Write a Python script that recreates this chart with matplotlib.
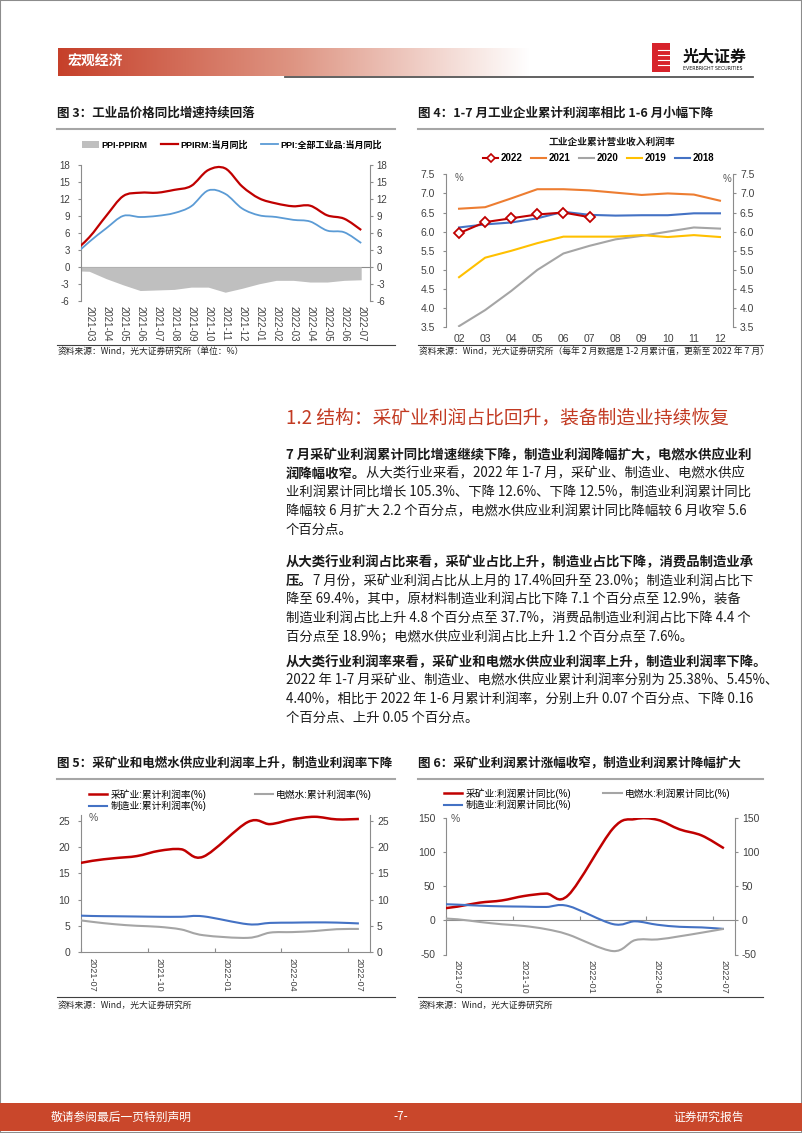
import numpy as np
import matplotlib
matplotlib.use('Agg')
import matplotlib.pyplot as plt
from matplotlib.path import Path
from matplotlib.patches import PathPatch, Rectangle, Patch
from matplotlib.lines import Line2D
from matplotlib.colors import LinearSegmentedColormap

W, H = 802, 1133
BODY = ['Noto Sans CJK SC', 'DejaVu Sans']
CHART = ['Liberation Sans', 'Noto Sans CJK SC']
plt.rcParams['font.family'] = CHART

RED = '#C00000'
GRAY = '#8C8C8C'
TXT = '#404040'

# ---- 图3: PPI / PPIRM (first month sits just left of the axis) ----
ppi_months = ['2021-02', '2021-03', '2021-04', '2021-05', '2021-06', '2021-07', '2021-08',
              '2021-09', '2021-10', '2021-11', '2021-12', '2022-01', '2022-02', '2022-03',
              '2022-04', '2022-05', '2022-06', '2022-07']
ppirm = [2.4, 5.2, 9.0, 12.5, 13.1, 13.1, 13.6, 14.3, 17.1, 17.4, 14.2, 12.1, 11.2, 10.7,
         10.8, 9.1, 8.5, 6.5]
ppi = [1.7, 4.4, 6.8, 9.0, 8.8, 9.0, 9.5, 10.7, 13.5, 12.9, 10.3, 9.1, 8.8, 8.3,
       8.0, 6.4, 6.1, 4.2]
ppi_gap = [-0.7, -0.8, -2.1, -3.2, -4.2, -4.1, -4.0, -3.6, -3.6, -4.5, -3.8, -3.0, -2.4, -2.4,
           -2.7, -2.7, -2.4, -2.3]

# ---- 图4: 工业企业累计营业收入利润率 ----
rate_months = ['02', '03', '04', '05', '06', '07', '08', '09', '10', '11', '12']
rate_2022 = [5.96, 6.25, 6.35, 6.45, 6.50, 6.38]
rate_2021 = [6.60, 6.64, 6.87, 7.11, 7.11, 7.08, 7.02, 6.96, 7.00, 6.97, 6.81]
rate_2020 = [3.53, 3.95, 4.45, 5.00, 5.43, 5.63, 5.80, 5.89, 6.00, 6.11, 6.08]
rate_2019 = [4.81, 5.32, 5.50, 5.70, 5.87, 5.87, 5.87, 5.91, 5.86, 5.91, 5.86]
rate_2018 = [6.11, 6.19, 6.24, 6.35, 6.52, 6.44, 6.42, 6.43, 6.43, 6.48, 6.48]

# ---- 图5 / 图6: 三大门类 (no separate Jan data) ----
ind_months = ['2021-06', '2021-07', '2021-08', '2021-09', '2021-10', '2021-11', '2021-12',
              '2022-02', '2022-03', '2022-04', '2022-05', '2022-06', '2022-07']
ind_ticks = ['2021-07', '2021-10', '2022-01', '2022-04', '2022-07']
mining_rate = [16.6, 17.4, 17.9, 18.3, 19.3, 19.6, 18.2, 24.8, 24.4, 25.3, 25.8, 25.3, 25.38]
manu_rate = [7.0, 6.87, 6.82, 6.77, 6.72, 6.72, 6.8, 5.3, 5.55, 5.6, 5.65, 5.61, 5.45]
util_rate = [6.3, 5.75, 5.3, 5.0, 4.8, 4.3, 3.2, 2.7, 3.7, 3.8, 4.0, 4.35, 4.40]
mining_yoy = [16, 20, 25.8, 29, 35.5, 39, 37, 134, 148, 147, 133, 124, 105.3]
manu_yoy = [24, 22.9, 21.4, 20.4, 20, 19.5, 20.8, -5.5, -1.5, -6.5, -9.5, -10.4, -12.6]
util_yoy = [3.3, 1.5, -2.4, -5.8, -8.3, -13, -21, -45, -29, -28, -23.4, -18.1, -12.5]


def mpos(s):
    y, m = s.split('-')
    return (int(y) - 2021) * 12 + int(m) - 7


fig = plt.figure(figsize=(W / 100, H / 100), dpi=100)
fig.patch.set_facecolor('white')


def px_axes(x0, y0, x1, y1):
    return fig.add_axes([x0 / W, 1 - y1 / H, (x1 - x0) / W, (y1 - y0) / H])


def ftext(x, y, s, **kw):
    kw.setdefault('va', 'center')
    return fig.text(x / W, 1 - y / H, s, **kw)


def hline(x0, x1, y, color, lw):
    fig.add_artist(Line2D([x0 / W, x1 / W], [1 - y / H, 1 - y / H], color=color, lw=lw,
                          transform=fig.transFigure))


def smooth(ax, x, y, color, lw):
    x = np.asarray(x, float)
    y = np.asarray(y, float)
    n = len(x)
    verts = [(x[0], y[0])]
    codes = [Path.MOVETO]
    for i in range(n - 1):
        xp, yp = (x[i - 1], y[i - 1]) if i > 0 else (x[i], y[i])
        xn, yn = (x[i + 2], y[i + 2]) if i < n - 2 else (x[i + 1], y[i + 1])
        verts.append((x[i] + (x[i + 1] - xp) / 6, y[i] + (y[i + 1] - yp) / 6))
        verts.append((x[i + 1] - (xn - x[i]) / 6, y[i + 1] - (yn - y[i]) / 6))
        verts.append((x[i + 1], y[i + 1]))
        codes += [Path.CURVE4] * 3
    ax.add_patch(PathPatch(Path(verts, codes), fill=False, edgecolor=color, lw=lw,
                           joinstyle='round', zorder=3))


def style_y(ax, ticks, labels, size, lpad, rpad, ymax=None):
    ax.set_ylim(ticks[0], ticks[-1] if ymax is None else ymax)
    ax.set_yticks(ticks, labels=labels)
    for s in ['top', 'bottom', 'right']:
        ax.spines[s].set_visible(False)
    ax.spines['left'].set_color(GRAY)
    ax.spines['left'].set_linewidth(0.8)
    ax.tick_params(axis='y', direction='out', length=2, width=0.8, color=GRAY,
                   labelsize=size, labelcolor=TXT, pad=lpad)
    sec = ax.secondary_yaxis('right')
    sec.set_yticks(ticks, labels=labels)
    sec.spines['right'].set_color(GRAY)
    sec.spines['right'].set_linewidth(0.8)
    sec.tick_params(axis='y', direction='out', length=2, width=0.8, color=GRAY,
                    labelsize=size, labelcolor=TXT, pad=rpad)
    ax.set_facecolor('none')


def zero_axis(ax, loc, ticks, direction):
    sx = ax.secondary_xaxis(loc)
    sx.set_xticks(ticks)
    for s in sx.spines.values():
        s.set_color(GRAY)
        s.set_linewidth(0.8)
    sx.tick_params(axis='x', direction=direction, length=3, width=0.8, color=GRAY,
                   labelbottom=False, labeltop=False)


# ---------------- page furniture ----------------
fig.add_artist(Rectangle((0, 0), 1, 1, transform=fig.transFigure, fill=False,
                         edgecolor='#8C8C8C', lw=1.5))
hdr = px_axes(58, 48, 530, 76)
hdr.imshow(np.linspace(0, 1, 256)[None, :], aspect='auto',
           cmap=LinearSegmentedColormap.from_list('hdr', ['#C6402A', '#DE9583', '#FFFFFF']))
hdr.axis('off')
ftext(68, 61.5, '宏观经济', color='white', fontsize=10, fontweight='bold', family=BODY)
hline(285, 753, 76.5, '#555555', 1.3)
# logo
fig.add_artist(Rectangle((652 / W, 1 - 72 / H), 18 / W, 29 / H, transform=fig.transFigure,
                         facecolor='#D7232B', edgecolor='none'))
for yy in [50, 55, 60, 65]:
    hline(658, 670, yy, 'white', 0.8)
ftext(683, 56, '光大证券', color='#111111', fontsize=11.5, fontweight='bold', family=BODY)
ftext(683, 68.5, 'EVERBRIGHT SECURITIES', color='#111111', fontsize=3.4, family=['DejaVu Sans'])

# footer
fig.add_artist(Rectangle((0, 1 - 1131 / H), 1, 28 / H, transform=fig.transFigure,
                         facecolor='#C9472B', edgecolor='none'))
ftext(51, 1117, '敬请参阅最后一页特别声明', color='white', fontsize=8.5, family=BODY)
ftext(401, 1117, '-7-', color='white', fontsize=8.5, family=BODY, ha='center')
ftext(744, 1117, '证券研究报告', color='white', fontsize=8.5, family=BODY, ha='right')

# chart titles / rules
ftext(57, 113, '图 3：工业品价格同比增速持续回落', fontsize=9, fontweight='bold', family=BODY,
      color='#1A1A1A')
ftext(418, 113, '图 4：1-7 月工业企业累计利润率相比 1-6 月小幅下降', fontsize=9,
      fontweight='bold', family=BODY, color='#1A1A1A')
hline(57, 395, 129, '#A6A6A6', 1.5)
hline(418, 763, 129, '#A6A6A6', 1.5)
ftext(57, 763, '图 5：采矿业和电燃水供应业利润率上升，制造业利润率下降', fontsize=9,
      fontweight='bold', family=BODY, color='#1A1A1A')
ftext(418, 763, '图 6：采矿业利润累计涨幅收窄，制造业利润累计降幅扩大', fontsize=9,
      fontweight='bold', family=BODY, color='#1A1A1A')
hline(57, 395, 779, '#A6A6A6', 1.5)
hline(418, 763, 779, '#A6A6A6', 1.5)

hline(57, 395, 345, '#404040', 0.8)
hline(418, 763, 345, '#404040', 0.8)
hline(57, 395, 997, '#404040', 0.8)
hline(418, 763, 997, '#404040', 0.8)
ftext(58, 351, '资料来源：Wind，光大证券研究所（单位：%）', fontsize=6.3, family=BODY, color='#222222')
ftext(419, 351, '资料来源：Wind，光大证券研究所（每年 2 月数据是 1-2 月累计值，更新至 2022 年 7 月）',
      fontsize=6.3, family=BODY, color='#222222')
ftext(58, 1005, '资料来源：Wind，光大证券研究所', fontsize=6.3, family=BODY, color='#222222')
ftext(419, 1005, '资料来源：Wind，光大证券研究所', fontsize=6.3, family=BODY, color='#222222')

# ---------------- 图3 ----------------
ax3 = px_axes(80.7, 165, 369.7, 300.7)
x3 = np.arange(len(ppi_months)) - 1
ax3.fill_between(x3, ppi_gap, 0, color='#BFBFBF', lw=0, zorder=1)
smooth(ax3, x3, ppirm, RED, 1.6)
smooth(ax3, x3, ppi, '#5B9BD5', 1.3)
ax3.set_xlim(-0.5, 16.5)
style_y(ax3, list(range(-6, 19, 3)), [str(v) for v in range(-6, 19, 3)], 7, 6, 3)
ax3.set_xticks(x3[1:], labels=ppi_months[1:], rotation=270)
ax3.tick_params(axis='x', length=0, pad=4, labelsize=7, labelcolor=TXT)
zero_axis(ax3, 0.25, np.arange(0.5, 16, 1), 'out')
fig.legend([Patch(facecolor='#BFBFBF'), Line2D([], [], color=RED, lw=1.6),
            Line2D([], [], color='#5B9BD5', lw=1.3)],
           ['PPI-PPIRM', 'PPIRM:当月同比', 'PPI:全部工业品:当月同比'],
           loc='center left', bbox_to_anchor=(82 / W, 1 - 145 / H), ncol=3, frameon=False,
           prop={'family': CHART, 'weight': 'bold', 'size': 6.5}, handlelength=1.9,
           handletextpad=0.3, columnspacing=1.4, borderpad=0, borderaxespad=0)

# ---------------- 图4 ----------------
ax4 = px_axes(446, 174.3, 733, 327.3)
x4 = np.arange(len(rate_months))
ax4.plot(x4, rate_2021, color='#ED7D31', lw=1.5)
ax4.plot(x4, rate_2020, color='#A5A5A5', lw=1.5)
ax4.plot(x4, rate_2019, color='#FFC000', lw=1.5)
ax4.plot(x4, rate_2018, color='#4472C4', lw=1.5)
ax4.plot(x4[:len(rate_2022)], rate_2022, color=RED, lw=1.5, marker='D', ms=5,
         mfc='white', mec=RED, mew=1.3, zorder=4)
ax4.set_xlim(-0.5, 10.5)
yt4 = [3.5 + 0.5 * i for i in range(9)]
style_y(ax4, yt4, ['%.1f' % v for v in yt4], 7.5, 6, 3)
ax4.set_xticks(x4, labels=rate_months)
ax4.tick_params(axis='x', length=0, pad=5, labelsize=7.5, labelcolor=TXT)
ftext(455, 178, '%', fontsize=7, color='#595959')
ftext(723, 179, '%', fontsize=7, color='#595959')
ftext(612, 142, '工业企业累计营业收入利润率', fontsize=7, fontweight='bold', family=BODY,
      ha='center', color='#1A1A1A')
fig.legend([Line2D([], [], color=RED, lw=1.5, marker='D', ms=4.5, mfc='white', mec=RED, mew=1.2),
            Line2D([], [], color='#ED7D31', lw=1.5), Line2D([], [], color='#A5A5A5', lw=1.5),
            Line2D([], [], color='#FFC000', lw=1.5), Line2D([], [], color='#4472C4', lw=1.5)],
           ['2022', '2021', '2020', '2019', '2018'],
           loc='center left', bbox_to_anchor=(483 / W, 1 - 158 / H), ncol=5, frameon=False,
           prop={'family': CHART, 'weight': 'bold', 'size': 7}, handlelength=1.55,
           handletextpad=0.25, columnspacing=0.9, borderpad=0, borderaxespad=0)

# ---------------- 图5 / 图6 ----------------
x_ind = [mpos(m) for m in ind_months]
tick_pos = [mpos(m) for m in ind_ticks]


def industry_chart(box, series, ticks, ymax, pct_xy, zero_loc, legend_xy, labels, colsp):
    ax = px_axes(*box)
    for vals, color, lw in series:
        smooth(ax, x_ind, vals, color, lw)
    ax.set_xlim(-0.5, 12.5)
    style_y(ax, ticks, [str(v) for v in ticks], 7.5, 6, 3, ymax)
    ax.set_xticks(tick_pos, labels=ind_ticks, rotation=270)
    ax.tick_params(axis='x', length=0, pad=4, labelsize=6.6, labelcolor=TXT)
    zero_axis(ax, zero_loc, [-0.5, 2.5, 5.5, 8.5, 11.5], 'in')
    ftext(pct_xy[0], pct_xy[1], '%', fontsize=7.5, color='#595959')
    handles = [Line2D([], [], color=c, lw=lw) for _, c, lw in series]
    fig.legend(handles, labels,
               loc='upper left', bbox_to_anchor=(legend_xy[0] / W, 1 - legend_xy[1] / H),
               ncol=2, frameon=False, prop={'family': CHART, 'size': 7},
               handlelength=1.9, handletextpad=0.3, columnspacing=colsp, labelspacing=0.1,
               borderpad=0, borderaxespad=0)
    return ax


industry_chart((81.3, 815.2, 370, 952),
               [(mining_rate, RED, 1.8), (manu_rate, '#4472C4', 1.5), (util_rate, '#A5A5A5', 1.5)],
               [0, 5, 10, 15, 20, 25], 26.1, (89, 818), 0.0, (89, 789),
               ['采矿业:累计利润率(%)', '制造业:累计利润率(%)', '电燃水:累计利润率(%)'], 5.0)
industry_chart((446.3, 817.7, 735, 954.5),
               [(mining_yoy, RED, 1.8), (manu_yoy, '#4472C4', 1.5), (util_yoy, '#A5A5A5', 1.5)],
               [-50, 0, 50, 100, 150], None, (451, 819), 0.25, (444, 788),
               ['采矿业:利润累计同比(%)', '制造业:利润累计同比(%)', '电燃水:利润累计同比(%)'], 3.3)

# ---------------- 正文 ----------------
ftext(286, 418, '1.2 结构：采矿业利润占比回升，装备制造业持续恢复', fontsize=13.5,
      color='#C23A22', family=BODY)

para_lines = [
    (455, [('7 月采矿业利润累计同比增速继续下降，制造业利润降幅扩大，电燃水供应业利', True)]),
    (473.5, [('润降幅收窄。', True), ('从大类行业来看，2022 年 1-7 月，采矿业、制造业、电燃水供应', False)]),
    (492, [('业利润累计同比增长 105.3%、下降 12.6%、下降 12.5%，制造业利润累计同比', False)]),
    (511, [('降幅较 6 月扩大 2.2 个百分点，电燃水供应业利润累计同比降幅较 6 月收窄 5.6', False)]),
    (529.5, [('个百分点。', False)]),
    (562, [('从大类行业利润占比来看，采矿业占比上升，制造业占比下降，消费品制造业承', True)]),
    (580.7, [('压。', True), ('7 月份，采矿业利润占比从上月的 17.4%回升至 23.0%；制造业利润占比下', False)]),
    (599.4, [('降至 69.4%，其中，原材料制造业利润占比下降 7.1 个百分点至 12.9%，装备', False)]),
    (618.1, [('制造业利润占比上升 4.8 个百分点至 37.7%，消费品制造业利润占比下降 4.4 个', False)]),
    (636.8, [('百分点至 18.9%；电燃水供应业利润占比上升 1.2 个百分点至 7.6%。', False)]),
    (661.7, [('从大类行业利润率来看，采矿业和电燃水供应业利润率上升，制造业利润率下降。', True)]),
    (680.4, [('2022 年 1-7 月采矿业、制造业、电燃水供应业累计利润率分别为 25.38%、5.45%、', False)]),
    (699.1, [('4.40%，相比于 2022 年 1-6 月累计利润率，分别上升 0.07 个百分点、下降 0.16', False)]),
    (717.8, [('个百分点、上升 0.05 个百分点。', False)]),
]
renderer = fig.canvas.get_renderer()
for y, parts in para_lines:
    x = 286
    for s, bold in parts:
        t = ftext(x, y, s, fontsize=9.6, family=BODY, color='#1A1A1A',
                  fontweight='bold' if bold else 'normal')
        x += t.get_window_extent(renderer).width

fig.savefig('out.png', dpi=100)
